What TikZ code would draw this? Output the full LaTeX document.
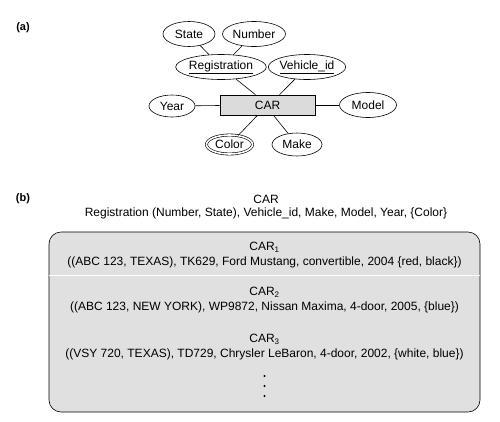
\documentclass[tikz,border=0pt]{standalone}
\usepackage{fontspec}
\setmainfont{Liberation Sans}
\usetikzlibrary{shapes.geometric}
\begin{document}
\begin{tikzpicture}[x=1pt,y=-1pt,font=\fontsize{12}{15}\selectfont]

	\tikzstyle{atributo} = [ellipse,draw=black,line width=0.6pt,inner sep=0pt,minimum height=25pt]
	\tikzstyle{multi} = [atributo,double,double distance=1.6pt]
	\tikzstyle{entidad} = [rectangle,draw=black,line width=0.6pt,fill=black!14,minimum width=95pt,minimum height=20pt]
	\tikzstyle{linea} = [line width=0.6pt]
	\tikzstyle{parte} = [font=\fontsize{11}{13}\selectfont\bfseries]
	\tikzstyle{tupla} = [align=center,inner sep=0pt]

	\useasboundingbox (0,0) rectangle (500,421);

	% (a) diagrama ER
	\node[parte] (a) at (23,28) {(a)};
	\node[atributo,minimum width=52pt] (st) at (189,34) {State};
	\node[atributo,minimum width=63pt] (nu) at (254,34) {Number};
	\node[atributo,minimum width=85pt] (reg) at (221,67) {\underline{Registration}};
	\node[atributo,minimum width=76pt] (vid) at (307,67) {\underline{Vehicle\_id}};
	\node[atributo,minimum width=46pt,minimum height=22pt] (yr) at (172,106) {Year};
	\node[entidad] (car) at (267.5,105) {CAR};
	\node[atributo,minimum width=57pt] (mo) at (368,105) {Model};
	\node[multi,minimum width=46pt,minimum height=19pt] (co) at (229.5,144.5) {Color};
	\node[atributo,minimum width=50pt,minimum height=23pt] (ma) at (297,144.5) {Make};

	\draw[linea] (st) edge (reg);
	\draw[linea] (nu) edge (reg);
	\draw[linea] (reg) edge ([xshift=-12pt]car.north);
	\draw[linea] (vid) edge ([xshift=12pt]car.north);
	\draw[linea] (yr) edge (car);
	\draw[linea] (car) edge (mo);
	\draw[linea] ([xshift=-10pt]car.south) edge (co);
	\draw[linea] ([xshift=6pt]car.south) edge (ma);

	% (b) conjunto de entidades
	\node[parte] (b) at (23,199) {(b)};
	\node (tit) at (266,199) {CAR};
	\node (esq) at (266,213) {Registration (Number, State), Vehicle\_id, Make, Model, Year, \{Color\}};

	\draw[linea,fill=black!12,rounded corners=12pt] (49,232) rectangle (480,412);
	\draw[white,line width=1pt] (49.3,275) -- (479.7,275);

	\node[tupla] (c1) at (264.5,255.5) {CAR\textsubscript{1}\\((ABC 123, TEXAS), TK629, Ford Mustang, convertible, 2004 \{red, black\})};
	\node[tupla] (c2) at (264.5,300.5) {CAR\textsubscript{2}\\((ABC 123, NEW YORK), WP9872, Nissan Maxima, 4-door, 2005, \{blue\})};
	\node[tupla] (c3) at (264.5,347) {CAR\textsubscript{3}\\((VSY 720, TEXAS), TD729, Chrysler LeBaron, 4-door, 2002, \{white, blue\})};

	\fill (264.5,376) circle (1.2pt);
	\fill (264.5,386) circle (1.2pt);
	\fill (264.5,396) circle (1.2pt);

\end{tikzpicture}
\end{document}
